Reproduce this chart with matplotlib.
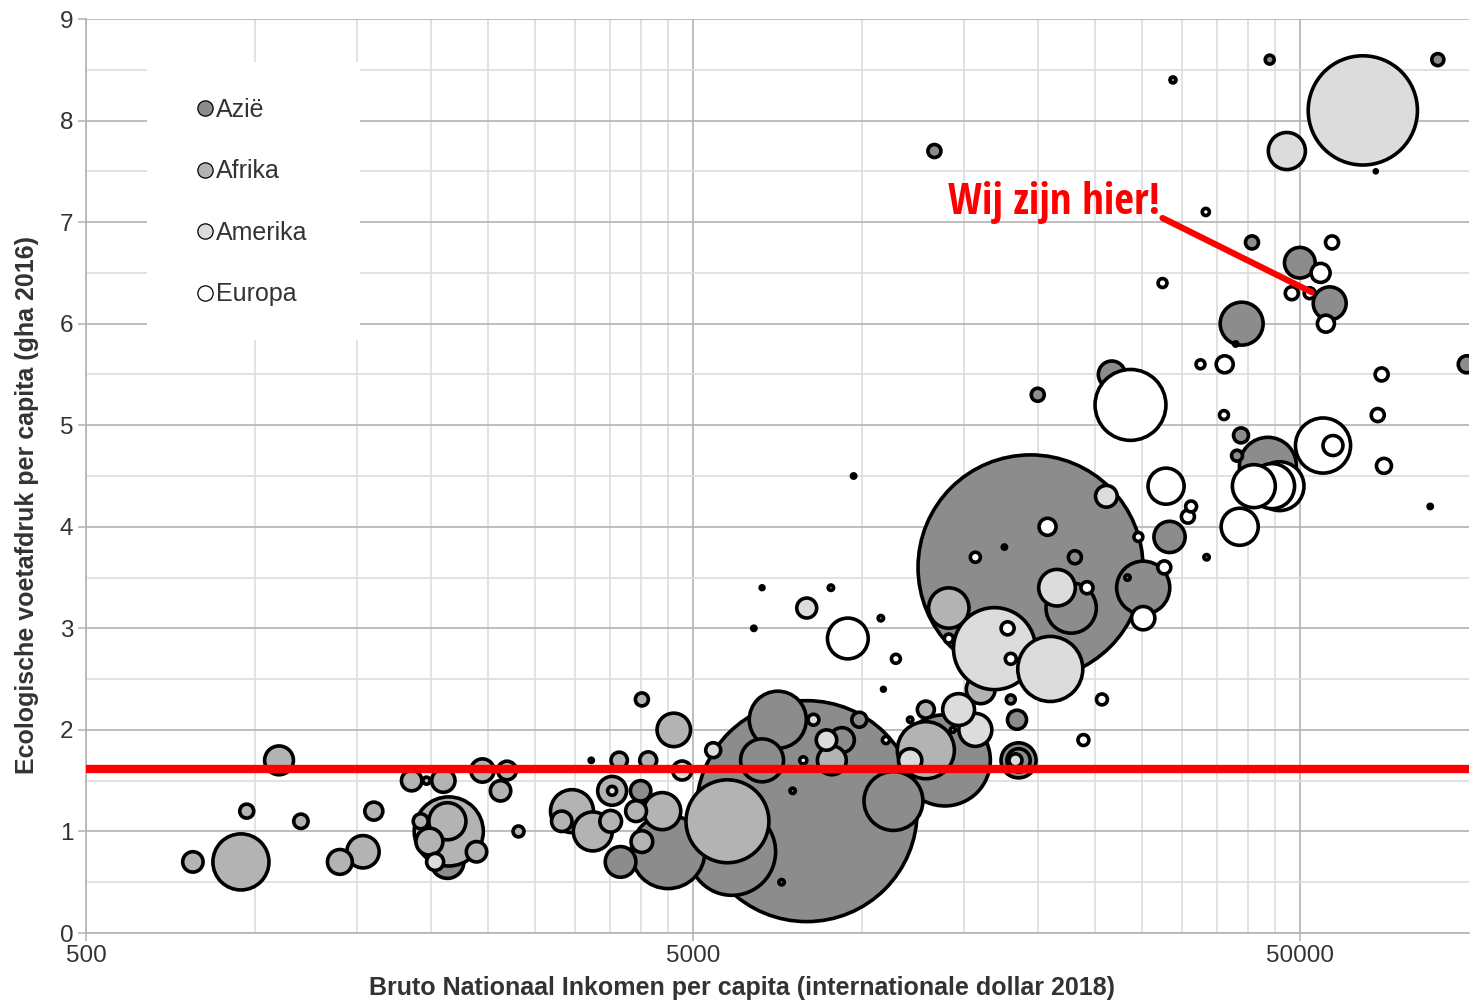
import numpy as np
import matplotlib
matplotlib.use("Agg")
import matplotlib.pyplot as plt
from matplotlib import font_manager
from matplotlib.lines import Line2D
from matplotlib.patches import Rectangle
from matplotlib.ticker import FixedLocator, NullFormatter

plt.rcParams['font.family'] = ['Liberation Sans', 'DejaVu Sans']

# Azië: BNI per capita, voetafdruk (gha), bevolking (miljoen)
asia_gni = [18000, 7700, 5800, 4550, 13000, 6900, 6500, 10700, 4100, 3800, 1970,
            9400, 8800, 21000, 27600, 30500, 21300, 17100, 16700, 17200, 17200,
            24500, 18500, 44300, 40100, 50000, 56000, 41700, 44600, 84400, 94200,
            40000, 39400, 12500, 30900, 66700, 9200, 6500, 8440, 6300, 10200,
            10300, 3400, 7300, 7000, 16300, 14100, 13800, 26000, 35100, 82000,
            39200, 11400]
asia_fp = [3.6, 1.2, 0.8, 0.8, 1.7, 2.1, 1.7, 1.3, 1.4, 0.7, 0.7,
           2.1, 1.9, 3.2, 3.4, 3.9, 3.7, 2.1, 2.3, 1.7, 1.7,
           5.5, 5.3, 4.6, 6.0, 6.6, 6.2, 6.8, 8.6, 8.6, 5.6,
           4.9, 4.7, 7.7, 8.4, 7.5, 4.5, 3.4, 3.4, 3.0, 3.1,
           2.4, 1.7, 1.4, 0.5, 3.8, 2.9, 3.0, 3.5, 3.7, 4.2,
           5.8, 2.1]
asia_pop = [1400, 1350, 210, 150, 230, 90, 51, 96, 11.5, 26, 30,
            6.2, 17, 70, 78, 27, 4.7, 10, 2.2, 34, 15,
            20, 4.7, 90, 51, 26, 30, 4.7, 2.2, 4.0, 8,
            6.2, 3.3, 4.7, 1.0, 0.25, 0.5, 0.4, 0.8, 0.5, 0.8,
            0.4, 0.5, 0.8, 0.8, 0.5, 0.5, 0.3, 0.8, 0.8, 0.5,
            0.5, 0.8]

# Afrika
africa_gni = [5700, 900, 750, 1040, 920, 1130, 1310, 1430, 1490, 1720, 1820,
              1940, 1980, 1970, 1780, 1840, 2200, 2250, 2470, 2410, 2580,
              3160, 3040, 3420, 3680, 3660, 4030, 4450, 4120, 4120, 4650,
              3780, 4220, 8470, 12100, 12100, 13200, 14900]
africa_fp = [1.1, 0.7, 0.7, 1.7, 1.2, 1.1, 0.7, 0.8, 1.2, 1.5, 1.5,
             1.5, 1.0, 1.1, 1.1, 0.9, 0.8, 1.6, 1.6, 1.4, 1.0,
             1.2, 1.1, 1.0, 1.4, 1.1, 1.2, 1.2, 0.9, 2.3, 2.0,
             1.7, 1.7, 1.7, 1.8, 2.2, 3.2, 2.4]
africa_pop = [190, 87, 11.5, 23, 5.4, 5.7, 17, 29, 9, 11.5, 1.4,
              15, 132, 38, 6.2, 20, 11.5, 15, 9.6, 11.5, 3.3,
              51, 11.5, 42, 23, 13, 12, 38, 13, 4.7, 31,
              7.4, 8, 23, 90, 8, 45, 23]

# Amerika
america_gni = [63500, 47600, 15700, 19400, 19900, 13700, 14600, 11400, 24000,
               8300, 7700, 5400, 4800, 1880, 7900, 17000, 3680]
america_fp = [8.1, 7.7, 2.8, 2.6, 3.4, 2.2, 2.0, 1.7, 4.3,
              1.9, 3.2, 1.8, 1.6, 0.7, 2.1, 1.7, 1.4]
america_pop = [330, 38, 186, 117, 37, 28, 30, 15, 13,
               11.5, 11, 6.2, 10, 8, 3.3, 4.7, 2.2]

# Europa
europe_gni = [26300, 54600, 56700, 42000, 46300, 45000, 39800, 30100, 27600,
              29900, 33100, 32700, 27100, 22300, 19200, 14600, 16500, 16700,
              10800, 23600, 22000, 10400, 7600, 13200, 9000, 13400, 54100,
              48500, 51900, 55200, 56500, 29700, 34300, 37600, 68200, 37500,
              67200, 68800, 35000]
europe_fp = [5.2, 4.8, 4.8, 4.4, 4.4, 4.4, 4.0, 4.4, 3.1,
             3.6, 4.2, 4.1, 3.9, 3.4, 4.0, 3.7, 3.0, 2.7,
             2.7, 2.3, 1.9, 1.9, 1.7, 2.9, 2.9, 2.0, 6.5,
             6.3, 6.3, 6.0, 6.8, 6.4, 5.6, 5.6, 5.5, 5.1,
             5.1, 4.6, 7.1]
europe_pop = [139, 84, 11, 51, 66, 56, 38, 36, 15,
              4.7, 3.3, 4.7, 2.2, 4.0, 8, 2.8, 4.7, 3.3,
              2.2, 3.3, 3.3, 1.4, 1.4, 2.2, 46, 0.7, 10,
              4.7, 3.3, 8, 4.7, 2.2, 2.2, 8, 4.7, 2.2,
              4.7, 6.2, 1.4]

regions = ['Azië', 'Afrika', 'Amerika', 'Europa']
region_colors = ['#8c8c8c', '#b3b3b3', '#dcdcdc', '#ffffff']
series = [(asia_gni, asia_fp, asia_pop),
          (africa_gni, africa_fp, africa_pop),
          (america_gni, america_fp, america_pop),
          (europe_gni, europe_fp, europe_pop)]

biocapacity = 1.61

x_major = [500, 5000, 50000]
x_minor = [500 + 450 * k for k in range(1, 10)] + [5000 + 4500 * k for k in range(1, 10)]


def narrow_font():
    # a narrow bold face for the red annotation, if one is installed
    fonts = font_manager.fontManager.ttflist
    for name in ['Liberation Sans Narrow', 'Open Sans Condensed', 'Roboto Condensed']:
        if any(f.name == name for f in fonts):
            return dict(family=name)
    for name in ['DejaVu Sans', 'Open Sans', 'Noto Sans']:
        if any(f.name == name and f.stretch in ('condensed', 'semi-condensed', 'extra-condensed')
               for f in fonts):
            return dict(family=name, fontstretch='condensed')
    return dict(family='Liberation Sans')


fig = plt.figure(figsize=(14.7, 10.01), dpi=100)
ax = fig.add_axes([86 / 1470, 68 / 1001, 1383 / 1470, 914 / 1001])
ax.set_xscale('log')
ax.set_xlim(500, 95000)
ax.set_ylim(0, 9)
ax.set_axisbelow(True)

# bubble radius in pixels ~ sqrt(population), China ~112 px
for (gni, fp, pop), col in zip(series, region_colors):
    gni = np.array(gni, dtype=float)
    fp = np.array(fp, dtype=float)
    pop = np.array(pop, dtype=float)
    order = np.argsort(-pop)
    r_px = 112.5 * np.sqrt(pop / 1400)
    s = (2 * r_px * 0.72) ** 2
    ax.scatter(gni[order], fp[order], s=s[order], c=col, edgecolors='black',
               linewidths=2.6, zorder=3)

ax.axhline(biocapacity, color='#ff0000', lw=6, zorder=5)

ax.plot([29700, 52300], [7.04, 6.31], color='#ff0000', lw=4.5,
        solid_capstyle='round', zorder=6)
note = ax.text(13160, 7.08, 'Wij zijn hier!', color='#ff0000', fontsize=31,
               fontweight='bold', ha='left', va='baseline', zorder=7,
               **narrow_font())

# axes and grid
ax.xaxis.set_major_locator(FixedLocator(x_major))
ax.xaxis.set_minor_locator(FixedLocator(x_minor))
ax.xaxis.set_minor_formatter(NullFormatter())
ax.set_xticklabels([str(v) for v in x_major])
ax.yaxis.set_major_locator(FixedLocator(range(0, 10)))
ax.yaxis.set_minor_locator(FixedLocator(np.arange(0.5, 9, 1.0)))
ax.grid(which='major', color='#b3b3b3', linewidth=1.2)
ax.grid(which='minor', color='#dddddd', linewidth=1.2)
ax.tick_params(which='major', length=6, width=1.1, color='#b3b3b3',
               labelsize=17.5, labelcolor='#333333', pad=3)
ax.tick_params(which='minor', length=0)
for side in ['top', 'right']:
    ax.spines[side].set_visible(False)
for side in ['left', 'bottom']:
    ax.spines[side].set_color('#b3b3b3')
    ax.spines[side].set_linewidth(1.2)

# legend on a white block
ax.add_patch(Rectangle((0.0441, 0.649), 0.1541, 0.304, transform=ax.transAxes,
                       facecolor='white', edgecolor='none', zorder=1))
handles = [Line2D([], [], marker='o', ls='', markersize=11, markerfacecolor=c,
                  markeredgecolor='black', markeredgewidth=0.9)
           for c in region_colors]
fig.legend(handles, regions, loc='upper left',
           bbox_to_anchor=(197 / 1470, 1 - 98 / 1001), frameon=False,
           fontsize=18, handlelength=0.65, handletextpad=0.1,
           labelspacing=1.5, borderpad=0, borderaxespad=0,
           labelcolor='#333333')

fig.text(742 / 1470, 1 - 988 / 1001,
         'Bruto Nationaal Inkomen per capita (internationale dollar 2018)',
         ha='center', va='center', fontsize=18, fontweight='bold', color='#333333')
fig.text(27 / 1470, 1 - 505 / 1001, 'Ecologische voetafdruk per capita (gha 2016)',
         ha='center', va='center', rotation=90, fontsize=18, fontweight='bold',
         color='#333333')

# keep the annotation about as wide as in the original
fig.canvas.draw()
w = note.get_window_extent().width
if w > 212:
    note.set_fontsize(31 * 212 / w)

fig.savefig('out.png', dpi=100)
